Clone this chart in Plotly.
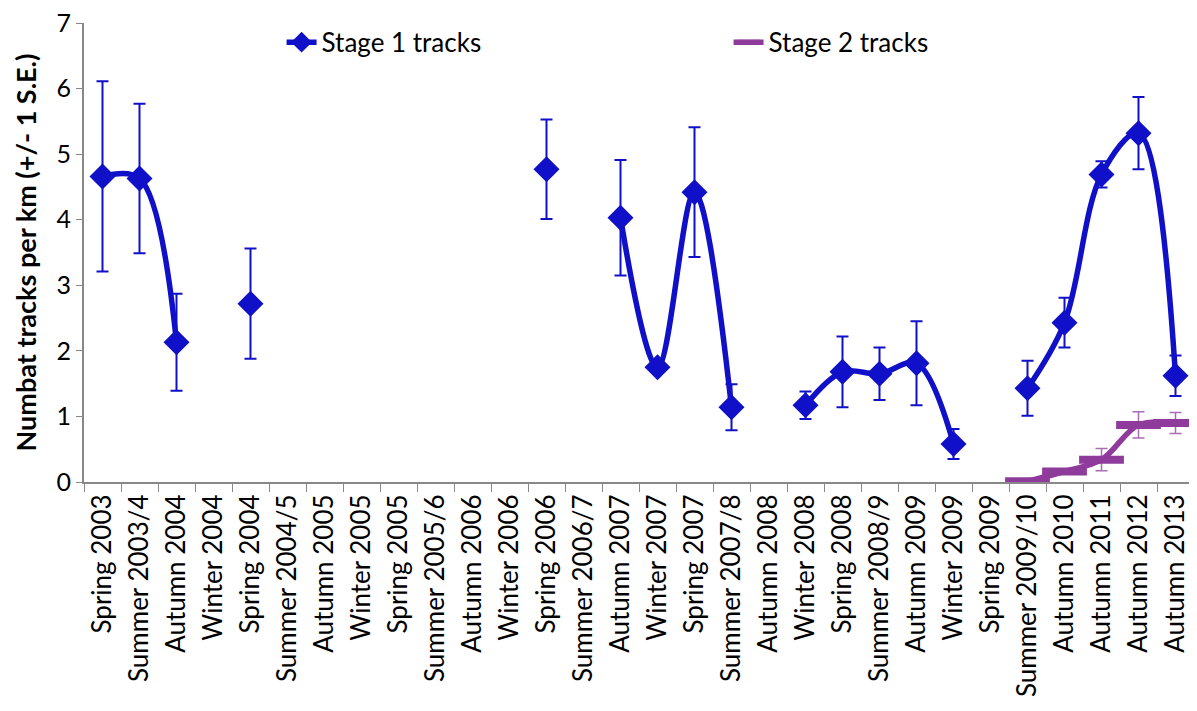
import plotly.graph_objects as go

categories = ["Spring 2003", "Summer 2003/4", "Autumn 2004", "Winter 2004", "Spring 2004",
              "Summer 2004/5", "Autumn 2005", "Winter 2005", "Spring 2005", "Summer 2005/6",
              "Autumn 2006", "Winter 2006", "Spring 2006", "Summer 2006/7", "Autumn 2007",
              "Winter 2007", "Spring 2007", "Summer 2007/8", "Autumn 2008", "Winter 2008",
              "Spring 2008", "Summer 2008/9", "Autumn 2009", "Winter 2009", "Spring 2009",
              "Summer 2009/10", "Autumn 2010", "Autumn 2011", "Autumn 2012", "Autumn 2013"]

stage1 = [4.66, 4.63, 2.13, None, 2.72,
          None, None, None, None, None,
          None, None, 4.77, None, 4.03,
          1.75, 4.42, 1.14, None, 1.17,
          1.68, 1.65, 1.81, 0.58, None,
          1.43, 2.43, 4.69, 5.32, 1.62]
stage1_se = [1.45, 1.14, 0.74, None, 0.84,
             None, None, None, None, None,
             None, None, 0.76, None, 0.88,
             0.05, 0.99, 0.35, None, 0.21,
             0.54, 0.40, 0.64, 0.23, None,
             0.42, 0.38, 0.20, 0.55, 0.31]

stage2 = [None] * 25 + [0.01, 0.16, 0.34, 0.87, 0.90]
stage2_se = [None] * 25 + [0.01, 0.03, 0.17, 0.20, 0.16]

blue = "#1010C8"
purple = "#8E3B9C"
font = "Lato"

fig = go.Figure()
fig.add_trace(go.Scatter(
    x=categories, y=stage1, name="Stage 1 tracks", mode="lines+markers",
    line=dict(color=blue, width=5.5, shape="spline", smoothing=1.0),
    marker=dict(symbol="diamond", size=20, color=blue),
    error_y=dict(type="data", array=stage1_se, color=blue, thickness=2, width=6),
    connectgaps=False,
))
fig.add_trace(go.Scatter(
    x=categories, y=stage2, name="Stage 2 tracks", mode="lines+markers",
    line=dict(color=purple, width=5.5, shape="spline", smoothing=1.0),
    marker=dict(symbol="line-ew", size=32, color=purple, line=dict(color=purple, width=8)),
    error_y=dict(type="data", array=stage2_se, color="rgba(142,59,156,0.75)", thickness=1.5, width=6),
    connectgaps=False,
))

fig.update_layout(
    width=1197, height=711,
    margin=dict(l=76, r=11, t=12, b=237),
    plot_bgcolor="white", paper_bgcolor="white",
    font=dict(family=font, color="black", size=26),
    showlegend=True,
    legend=dict(orientation="h", x=0.178, y=0.958, xanchor="left", yanchor="middle",
                entrywidth=402, entrywidthmode="pixels",
                font=dict(family=font, size=26), bgcolor="rgba(0,0,0,0)"),
    xaxis=dict(type="category", categoryorder="array", categoryarray=categories,
               tickangle=-90, tickson="boundaries", ticks="outside", ticklen=8,
               tickcolor="#888888", showline=True, linecolor="#888888", linewidth=2,
               showgrid=False, tickfont=dict(family=font, size=26), range=[-0.5, 29.5],
               automargin=False),
    yaxis=dict(range=[0, 7], dtick=1, ticks="outside", ticklen=6, tickcolor="#888888",
               showline=True, linecolor="#888888", linewidth=2, showgrid=False, zeroline=False,
               tickfont=dict(family=font, size=25), automargin=False, ticklabeloverflow="allow",
               title=dict(text="<b>Numbat tracks per km (+/- 1 S.E.)</b>",
                          font=dict(family=font, size=27), standoff=12)),
)

fig.write_html("out.html")
